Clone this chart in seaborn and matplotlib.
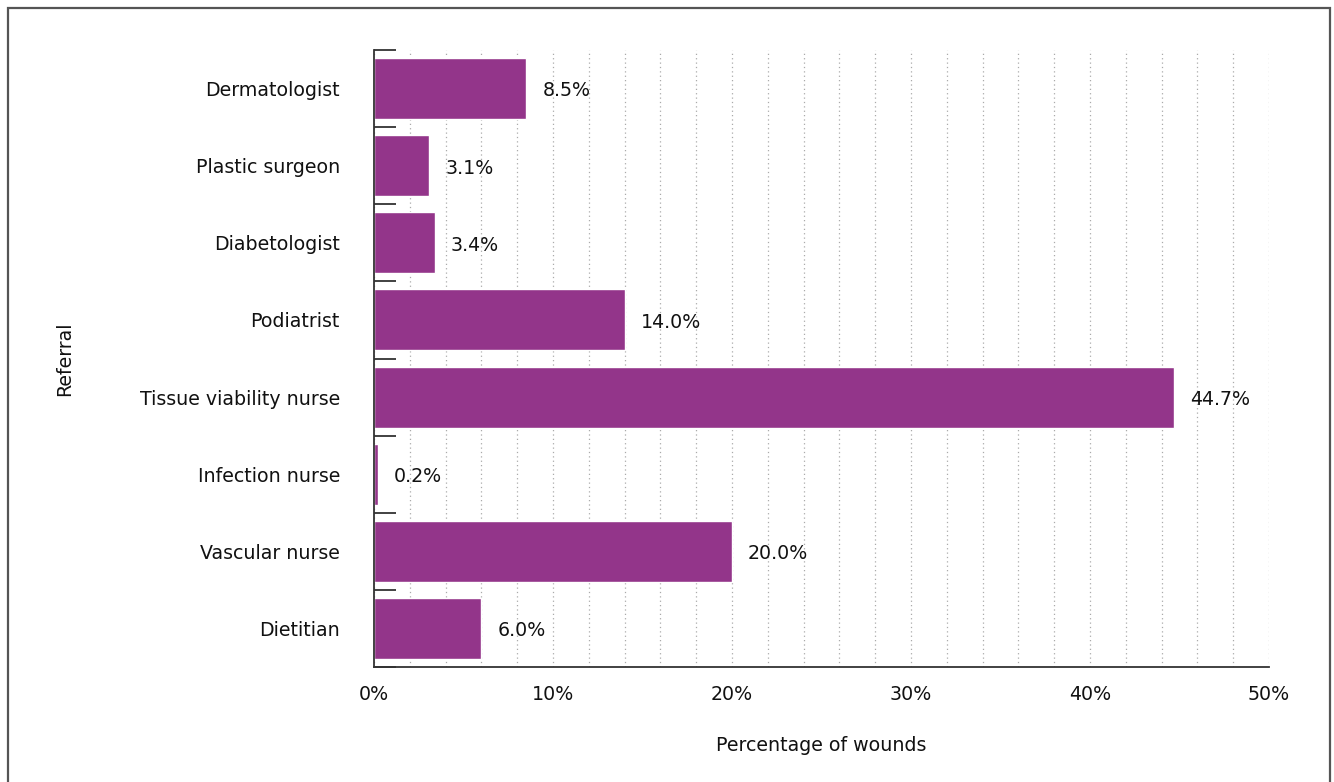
import matplotlib
matplotlib.use("Agg")
import matplotlib.pyplot as plt
import seaborn as sns
import pandas as pd
from matplotlib.patches import Rectangle
from matplotlib.ticker import MultipleLocator, FuncFormatter

categories = ["Dermatologist", "Plastic surgeon", "Diabetologist", "Podiatrist",
              "Tissue viability nurse", "Infection nurse", "Vascular nurse", "Dietitian"]
values = [8.5, 3.1, 3.4, 14.0, 44.7, 0.2, 20.0, 6.0]
value_labels = ["8.5%", "3.1%", "3.4%", "14.0%", "44.7%", "0.2%", "20.0%", "6.0%"]

df = pd.DataFrame({"Referral": categories, "Percentage": values})

sns.set_theme(style="white")
plt.rcParams["font.family"] = ["DejaVu Sans"]

FS = 13.7

fig = plt.figure(figsize=(13.34, 7.82), dpi=100)
ax = fig.add_axes([374 / 1334, 1 - 667 / 782, (1269 - 374) / 1334, (667 - 50) / 782])

bar_color = "#93358A"
sns.barplot(data=df, y="Referral", x="Percentage", orient="h", color=bar_color,
            saturation=1, width=0.79, ax=ax)

ax.set_xlim(0, 50)
ax.set_ylim(7.5, -0.5)

ax.xaxis.set_major_locator(MultipleLocator(10))
ax.xaxis.set_minor_locator(MultipleLocator(2))
ax.xaxis.set_major_formatter(FuncFormatter(lambda v, p: f"{int(v)}%"))
ax.grid(True, which="both", axis="x", linestyle=(0, (1, 2.5)), color="#aaaaaa", linewidth=0.9)
ax.set_axisbelow(True)

ax.set_yticks(range(len(categories)))
ax.set_yticklabels(categories)
ax.set_yticks([i - 0.5 for i in range(len(categories) + 1)], minor=True)
ax.tick_params(axis="y", which="major", left=True, length=0, pad=24.5, labelsize=FS, labelcolor="#111111")
ax.tick_params(axis="y", which="minor", left=True, direction="in", length=16, width=1.3, color="#333333")
ax.tick_params(axis="x", which="both", length=0, pad=13, labelsize=FS, labelcolor="#111111")

for s in ["top", "right"]:
    ax.spines[s].set_visible(False)
for s in ["left", "bottom"]:
    ax.spines[s].set_color("#333333")
    ax.spines[s].set_linewidth(1.3)

for i, (v, lab) in enumerate(zip(values, value_labels)):
    ax.text(v + 0.9, i + 0.03, lab, va="center", ha="left", fontsize=FS, color="#111111")

ax.set_xlabel("Percentage of wounds", fontsize=FS, labelpad=23, color="#111111")
ax.set_ylabel("Referral", fontsize=FS, labelpad=47.5, color="#111111")

border = Rectangle((8 / 1334, -0.05), (1330 - 8) / 1334, 1 - 8 / 782 + 0.05,
                   transform=fig.transFigure, fill=False, edgecolor="#555555",
                   linewidth=1.6, clip_on=False)
fig.patches.append(border)

fig.savefig("out.png", dpi=100, facecolor="white")
